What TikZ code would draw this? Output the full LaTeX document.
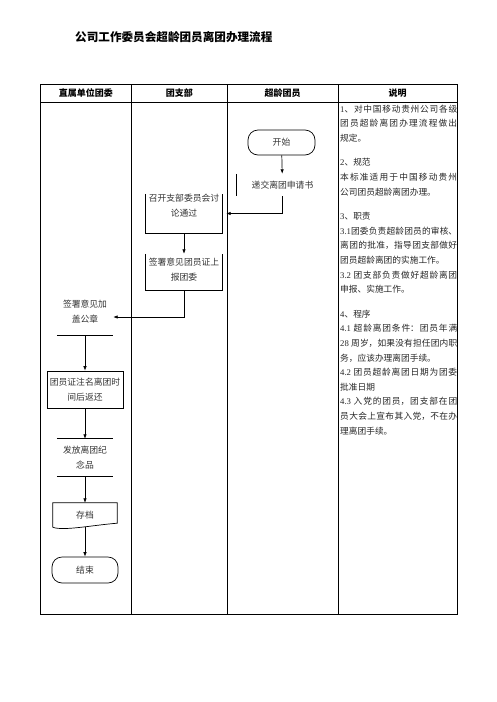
\documentclass[tikz,border=0pt]{standalone}
\usepackage{fontspec}
\setmainfont{Noto Sans CJK SC}
\newfontfamily\latin{Liberation Serif}
\newcommand{\lat}[1]{{\latin #1}}
\usepackage{tikz}
\usetikzlibrary{arrows.meta,positioning}
\XeTeXlinebreaklocale "zh"
\XeTeXlinebreakskip=0pt plus 2pt

\begin{document}
\begin{tikzpicture}[x=1pt,y=-1pt, every node/.style={font=\fontsize{8.8}{15}\selectfont,text=black!80,align=center}, lane/.style={line width=0.9pt}, hdr/.style={font=\bfseries\fontsize{9}{11}\selectfont,text=black}, shapebox/.style={inner sep=0pt}, terminal/.style={draw,line width=0.7pt,rounded corners=10pt,inner sep=0pt,minimum width=67pt,minimum height=25pt}, rim/.style={line width=0.7pt}, arr/.style={-{Latex[length=4.5pt,width=3.5pt]},line width=0.7pt}]
\useasboundingbox (0,0) rectangle (496,702);
\node[anchor=west,inner sep=0pt,font=\bfseries\fontsize{11.6}{14}\selectfont,text=black] (title) at (75,37) {公司工作委员会超龄团员离团办理流程};
% swimlane table
\draw[lane] (40,84) rectangle (457,614);
\draw[lane] (40,102) -- (457,102);
\foreach \x in {131.5,227,338} \draw[lane] (\x,84) -- (\x,614);
\node[hdr] (hdunit) at (85.75,93) {直属单位团委};
\node[hdr] (hdbranch) at (179.25,93) {团支部};
\node[hdr] (hdmember) at (282.5,93) {超龄团员};
\node[hdr] (hdnote) at (397.5,93) {说明};
% flow
\node[terminal] (start) at (281.5,142.5) {开始};
\node[shapebox,minimum width=91pt,minimum height=22pt] (apply) at (282.5,185) {递交离团申请书};
\node[shapebox,minimum width=76pt,minimum height=39pt] (meet) at (184,213.5) {};
\node (meettxt) at (184,205.5) {召开支部委员会讨\\论通过};
\node[shapebox,minimum width=76pt,minimum height=36pt] (sign) at (184,272) {};
\node (signtxt) at (184,269.5) {签署意见团员证上\\报团委};
\node[shapebox,minimum width=56pt,minimum height=36pt] (seal) at (85,317) {};
\node (sealtxt) at (85,311.5) {签署意见加\\盖公章};
\node[shapebox,draw,line width=0.7pt,minimum width=76pt,minimum height=37pt] (note) at (85,389.5) {团员证注名离团时\\间后返还};
\node[shapebox,minimum width=56pt,minimum height=37pt] (gift) at (85,457.5) {发放离团纪\\念品};
\node[shapebox,minimum width=64pt,minimum height=24pt] (archive) at (85,515) {存档};
\node[terminal,minimum width=66pt,minimum height=26pt] (finish) at (85,570) {结束};
\draw[rim] (apply.north west) -- (apply.south west);
\draw[rim] (meet.north west) -- (meet.south west) -- (meet.south east) -- (meet.north east);
\draw[rim] (sign.north west) -- (sign.south west) -- (sign.south east) -- (sign.north east);
\draw[rim] (seal.south west) -- (seal.south east);
\draw[rim] (gift.north west) -- (gift.north east) (gift.south west) -- (gift.south east);
\draw[rim] (archive.south west) .. controls +(10,4) and +(-25,2) .. ([yshift=4pt]archive.south east) -- (archive.north east) -- (archive.north west) -- cycle;
\draw[arr] (start) -- (apply);
\draw[arr,shorten >=4pt] (apply.south) |- (meet.east);
\draw[arr] (meet) -- (sign);
\draw[arr] (sign.south) |- (seal.east);
\draw[arr] (seal) -- (note);
\draw[arr] (note) -- (gift);
\draw[arr] (gift) -- (archive);
\draw[arr] (archive) -- (finish);
% notes column
\node[anchor=north west,inner sep=0pt,text width=117pt,align=justify,text=black!85,font=\fontsize{8.7}{14.6}\selectfont] (steps) at (340,104.5) {%
\lat{1}、对中国移动贵州公司各级\linebreak
团员超龄离团办理流程做出\linebreak
规定。\\[10pt]
\lat{2}、规范\\
本标准适用于中国移动贵州\linebreak
公司团员超龄离团办理。\\[10pt]
\lat{3}、职责\\
\lat{3.1}团委负责超龄团员的审核、\linebreak
离团的批准，指导团支部做好\linebreak
团员超龄离团的实施工作。\\
\lat{3.2 }团支部负责做好超龄离团\linebreak
申报、实施工作。\\[10pt]
\lat{4}、程序\\
\lat{4.1 }超龄离团条件：团员年满\linebreak
\lat{28 }周岁，如果没有担任团内职\linebreak
务，应该办理离团手续。\\
\lat{4.2 }团员超龄离团日期为团委\linebreak
批准日期\\
\lat{4.3 }入党的团员，团支部在团\linebreak
员大会上宣布其入党，不在办\linebreak
理离团手续。};
\end{tikzpicture}
\end{document}
